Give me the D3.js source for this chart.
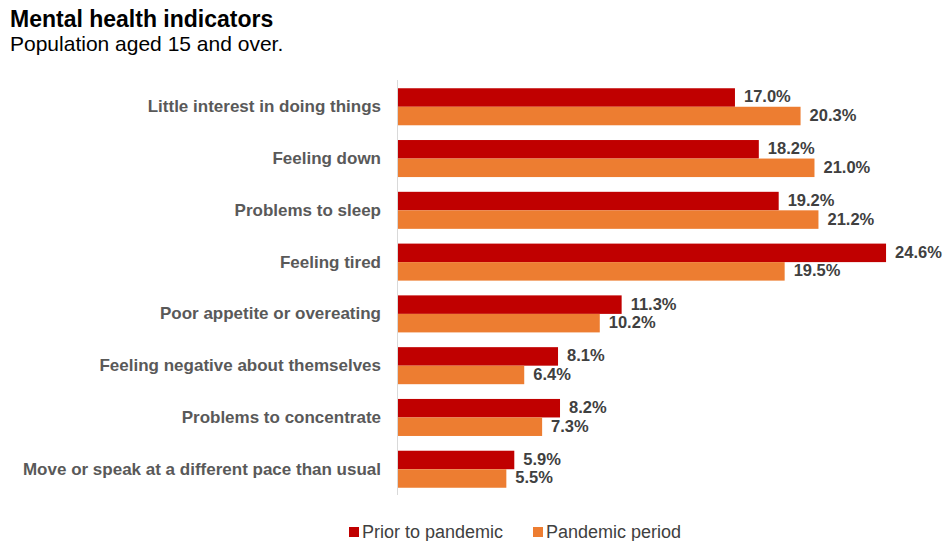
<!DOCTYPE html>
<html>
<head>
<meta charset="utf-8">
<script src="https://cdn.jsdelivr.net/npm/d3@7"></script>
<style>
  body { margin: 0; background: #fff; font-family: "Liberation Sans", Arial, sans-serif; }
</style>
</head>
<body>
<div id="chart"></div>
<script>
var categories = [
  "Little interest in doing things",
  "Feeling down",
  "Problems to sleep",
  "Feeling tired",
  "Poor appetite or overeating",
  "Feeling negative about themselves",
  "Problems to concentrate",
  "Move or speak at a different pace than usual"
];
var seriesNames = ["Prior to pandemic", "Pandemic period"];
var prior = [17.0, 18.2, 19.2, 24.6, 11.3, 8.1, 8.2, 5.9];
var pandemic = [20.3, 21.0, 21.2, 19.5, 10.2, 6.4, 7.3, 5.5];
var colors = ["#c00000", "#ed7d31"];

var width = 945, height = 541,
  margin = {left: 397, right: 40, top: 81, bottom: 46};

var svg = d3.select("#chart").append("svg")
  .attr("width", width)
  .attr("height", height);

svg.append("text")
  .attr("x", 10).attr("y", 27)
  .attr("font-size", "23px").attr("font-weight", "bold").attr("fill", "#000")
  .text("Mental health indicators");
svg.append("text")
  .attr("x", 10).attr("y", 51)
  .attr("font-size", "21px").attr("fill", "#000")
  .text("Population aged 15 and over.");

var y = d3.scaleBand()
  .domain(categories)
  .range([margin.top, height - margin.bottom])
  .paddingInner(0.285)
  .paddingOuter(0.14);

var y1 = d3.scaleBand()
  .domain([0, 1])
  .range([0, y.bandwidth()]);

var x = d3.scaleLinear()
  .domain([0, 24.6])
  .range([margin.left, margin.left + 24.6 * 19.88]);

var rows = categories.map(function (c, i) {
  return {name: c, vals: [prior[i], pandemic[i]]};
});

var g = svg.selectAll("g.cat")
  .data(rows)
  .enter().append("g")
  .attr("class", "cat")
  .attr("transform", function (d) { return "translate(0," + y(d.name) + ")"; });

g.selectAll("rect")
  .data(function (d) { return d.vals; })
  .enter().append("rect")
  .attr("x", x(0))
  .attr("y", function (d, i) { return y1(i); })
  .attr("width", function (d) { return x(d) - x(0); })
  .attr("height", y1.bandwidth())
  .attr("fill", function (d, i) { return colors[i]; });

g.selectAll("text.val")
  .data(function (d) { return d.vals; })
  .enter().append("text")
  .attr("class", "val")
  .attr("x", function (d) { return x(d) + 9; })
  .attr("y", function (d, i) { return y1(i) + y1.bandwidth() / 2; })
  .attr("dy", "0.3em")
  .attr("font-size", "16.5px").attr("font-weight", "bold").attr("fill", "#404040")
  .text(function (d) { return d.toFixed(1) + "%"; });

// category axis
var yAxis = svg.append("g")
  .attr("transform", "translate(" + margin.left + ",0)")
  .call(d3.axisLeft(y).tickSize(0).tickPadding(16));
yAxis.select(".domain").attr("stroke", "#d9d9d9").attr("d", "M0.5," + (margin.top - 1) + "V" + (height - margin.bottom));
yAxis.selectAll("text")
  .attr("font-family", "Liberation Sans, Arial, sans-serif")
  .attr("font-size", "17px").attr("font-weight", "bold").attr("fill", "#595959");

// legend
var legend = svg.append("g");
var lx = [349, 533];
seriesNames.forEach(function (n, i) {
  legend.append("rect")
    .attr("x", lx[i]).attr("y", 527).attr("width", 10).attr("height", 10)
    .attr("fill", colors[i]);
  legend.append("text")
    .attr("x", lx[i] + 13).attr("y", 538)
    .attr("font-size", "18px").attr("fill", "#404040")
    .text(n);
});
</script>
</body>
</html>
